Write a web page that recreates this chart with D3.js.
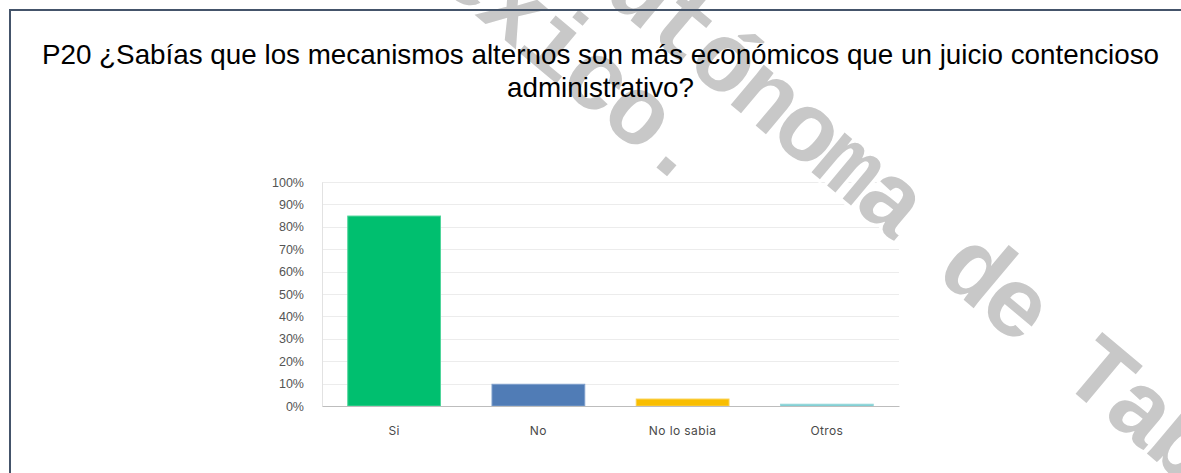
<!DOCTYPE html>
<html>
<head>
<meta charset="utf-8">
<script src="https://cdn.jsdelivr.net/npm/d3@7"></script>
<style>
  html, body { margin: 0; padding: 0; background: #fff; }
  svg { display: block; }
</style>
</head>
<body>
<svg id="chart" width="1181" height="473"></svg>
<script>
// Survey question P20 – answer shares
const categories = ["Si", "No", "No lo sabia", "Otros"];
const values = [0.848, 0.097, 0.031, 0.008];
const barColors = ["#00bf6f", "#507cb6", "#f9be00", "#6bc8cd"];
const barEdges = ["#4fd59a", "#7d9fcb", "#fbd04d", "#9ad9dc"];
const yTicks = [0, 0.1, 0.2, 0.3, 0.4, 0.5, 0.6, 0.7, 0.8, 0.9, 1.0];
const titleLines = [
  "P20 ¿Sabías que los mecanismos alternos son más económicos que un juicio contencioso",
  "administrativo?"
];
const watermarkLines = ["Universidad Juárez Autónoma de Tabasco.", "México."];

const svg = d3.select("#chart");
const W = 1181, H = 473;
svg.append("rect").attr("width", W).attr("height", H).attr("fill", "#fff");

const plot = { left: 322, right: 899, top: 182, bottom: 406 };

const x = d3.scaleBand()
  .domain(categories)
  .range([plot.left, plot.right])
  .paddingInner(0.35)
  .paddingOuter(0.175);

const y = d3.scaleLinear().domain([0, 1]).range([plot.bottom, plot.top]);

const g = svg.append("g");

// horizontal grid
g.append("g")
  .selectAll("line")
  .data(yTicks.filter(d => d > 0))
  .join("line")
  .attr("x1", plot.left).attr("x2", plot.right)
  .attr("y1", d => Math.round(y(d)) + 0.5).attr("y2", d => Math.round(y(d)) + 0.5)
  .attr("stroke", "#ececec").attr("stroke-width", 1);

// y axis
const yAxis = d3.axisLeft(y)
  .tickValues(yTicks)
  .tickFormat(d3.format(".0%"))
  .tickSize(0)
  .tickPadding(18);
const ya = g.append("g").attr("transform", `translate(${plot.left},0)`).call(yAxis);
ya.select(".domain").attr("stroke", "#e2e2e2");
ya.selectAll("text")
  .attr("fill", "#545454")
  .style("font-family", "'Liberation Sans', Arial, sans-serif")
  .style("font-size", "12.5px");

// bars
g.append("g")
  .selectAll("rect")
  .data(categories)
  .join("rect")
  .attr("x", d => x(d) + 0.5)
  .attr("width", x.bandwidth() - 1)
  .attr("y", (d, i) => y(values[i]))
  .attr("height", (d, i) => plot.bottom - y(values[i]))
  .attr("fill", (d, i) => barColors[i])
  .attr("stroke", (d, i) => barEdges[i])
  .attr("stroke-width", 1);

// x axis
const xAxis = d3.axisBottom(x).tickSize(0).tickPadding(20);
const xa = g.append("g").attr("transform", `translate(0,${plot.bottom})`).call(xAxis);
xa.select(".domain").attr("stroke", "#bdbdbd");
xa.selectAll("text")
  .attr("fill", "#4a4a4a")
  .style("font-family", "Inter, 'Open Sans', sans-serif")
  .style("font-size", "12px")
  .style("letter-spacing", "0.4px");

// diagonal watermark
const wm = svg.append("text")
  .attr("transform", "translate(580,-22) rotate(40)")
  .attr("text-anchor", "middle")
  .style("font-family", "'Liberation Mono', 'Courier New', monospace")
  .style("font-weight", "bold")
  .style("font-size", "98px")
  .style("letter-spacing", "-4.5px")
  .attr("fill", "#c8c8c8")
  .attr("stroke", "#ffffff")
  .attr("stroke-width", 7)
  .attr("stroke-linejoin", "round")
  .style("paint-order", "stroke");
wm.selectAll("tspan")
  .data(watermarkLines)
  .join("tspan")
  .attr("x", (d, i) => i * 22)
  .attr("y", (d, i) => i * 96)
  .text(d => d);

// frame
svg.append("path")
  .attr("d", `M10,${H + 5} V10 H${W + 5}`)
  .attr("fill", "none")
  .attr("stroke", "#44546a")
  .attr("stroke-width", 2);

// title
svg.append("g")
  .selectAll("text")
  .data(titleLines)
  .join("text")
  .attr("x", 600.5)
  .attr("y", (d, i) => 63.5 + i * 33.5)
  .attr("text-anchor", "middle")
  .attr("fill", "#000")
  .style("font-family", "'Liberation Sans', Arial, sans-serif")
  .style("font-size", "27.8px")
  .text(d => d);
</script>
</body>
</html>
